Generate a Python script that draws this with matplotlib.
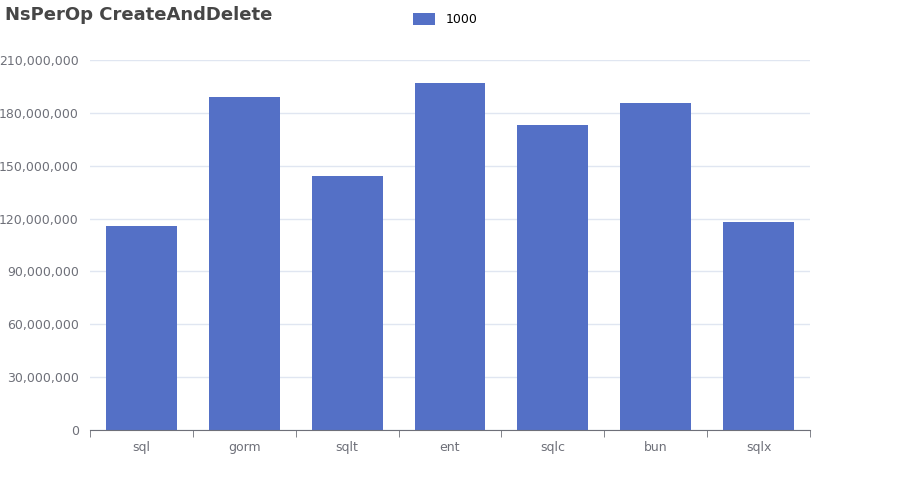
import matplotlib.pyplot as plt
from matplotlib.ticker import FuncFormatter, MultipleLocator

categories = ["sql", "gorm", "sqlt", "ent", "sqlc", "bun", "sqlx"]
values_1000 = [115.8e6, 189.0e6, 144.2e6, 197.0e6, 173.1e6, 185.6e6, 118.1e6]

fig = plt.figure(figsize=(9, 5), dpi=100)
ax = fig.add_axes([90 / 900, 70 / 500, 720 / 900, 370 / 500])

ax.bar(range(len(categories)), values_1000, width=0.69, color="#5470c6", zorder=2)
ax.set_xlim(-0.5, len(categories) - 0.5)
ax.set_ylim(0, 210e6)
ax.yaxis.set_major_locator(MultipleLocator(30e6))
ax.yaxis.set_major_formatter(FuncFormatter(lambda v, _: f"{int(v):,}"))
ax.grid(axis="y", color="#e0e6f1", linewidth=1, zorder=0)

ax.set_xticks(range(len(categories)))
ax.set_xticklabels(categories)
ax.set_xticks([i - 0.5 for i in range(len(categories) + 1)], minor=True)
ax.tick_params(axis="x", which="major", length=0, labelsize=9, colors="#6e7079", pad=8)
ax.tick_params(axis="x", which="minor", length=5, color="#6e7079")
ax.tick_params(axis="y", length=0, labelsize=9, colors="#6e7079", pad=8)

for s in ["top", "right", "left"]:
    ax.spines[s].set_visible(False)
ax.spines["bottom"].set_color("#6e7079")

fig.text(5 / 900, 1 - 15 / 500, "NsPerOp CreateAndDelete", fontsize=13,
         fontweight="bold", color="#464646", va="center")
leg = ax.legend(["1000"], loc="upper center", bbox_to_anchor=(0.5, 1 - 60 / 500 + 0.0),
                bbox_transform=fig.transFigure, frameon=False, fontsize=9,
                handlelength=1.8, handleheight=1.0)
leg.set_bbox_to_anchor((445 / 900, 1 - 2 / 500), transform=fig.transFigure)

fig.savefig("out.png")
